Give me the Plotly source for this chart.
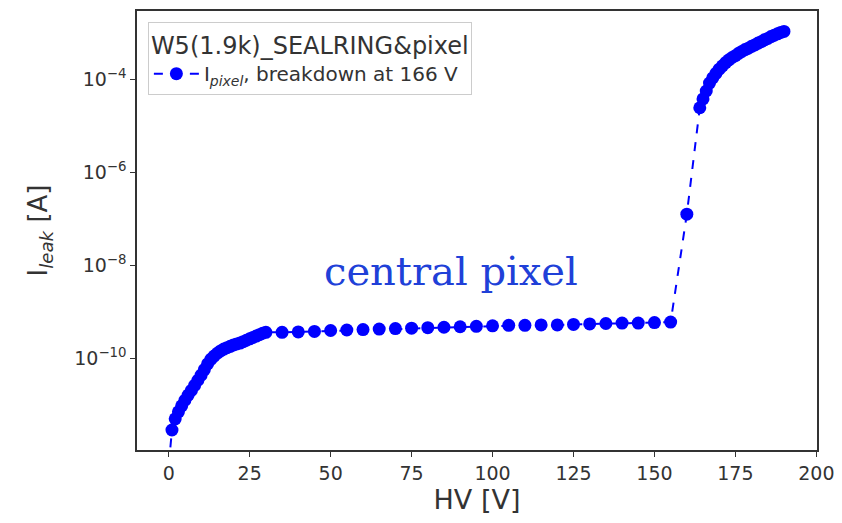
import plotly.graph_objects as go

# Data
hv_volts = [0, 1, 2, 3, 4, 5, 6, 7, 8, 9, 10, 11, 12, 13, 14, 15, 16, 17, 18, 19, 20,
            21, 22, 23, 24, 25, 26, 27, 28, 29, 30,
            35, 40, 45, 50, 55, 60, 65, 70, 75, 80, 85, 90, 95, 100, 105, 110, 115,
            120, 125, 130, 135, 140, 145, 150, 155,
            160,
            164, 165, 166, 167, 168, 169, 170, 171, 172, 173, 174, 175, 176, 177, 178,
            179, 180, 181, 182, 183, 184, 185, 186, 187, 188, 189, 190]
log10_ileak = [-12.3, -11.54, -11.30, -11.15, -11.02, -10.90, -10.79, -10.69, -10.58, -10.47, -10.36,
               -10.24, -10.12, -10.02, -9.95, -9.89, -9.84, -9.80, -9.77, -9.74, -9.71,
               -9.69, -9.67, -9.64, -9.61, -9.58, -9.55, -9.52, -9.49, -9.46, -9.44,
               -9.44, -9.43, -9.42, -9.40, -9.39, -9.38, -9.37, -9.36, -9.35, -9.34, -9.33,
               -9.32, -9.31, -9.30, -9.29, -9.29, -9.28, -9.28, -9.27, -9.26, -9.25, -9.24,
               -9.24, -9.23, -9.22,
               -6.90,
               -4.61, -4.42, -4.25, -4.08, -3.97, -3.87, -3.78, -3.71, -3.64, -3.58, -3.53,
               -3.49, -3.44, -3.40, -3.36, -3.33, -3.29, -3.26, -3.22, -3.19, -3.15, -3.12,
               -3.08, -3.05, -3.02, -2.99, -2.97]
ileak = [10 ** v for v in log10_ileak]

y_tick_vals = [1e-10, 1e-8, 1e-6, 1e-4]
y_tick_text = ["10<sup>−10</sup>", "10<sup>−8</sup>", "10<sup>−6</sup>", "10<sup>−4</sup>"]
x_tick_vals = [0, 25, 50, 75, 100, 125, 150, 175, 200]

series_name = "I<sub><i>pixel</i></sub>, breakdown at 166 V"
legend_title = "W5(1.9k)_SEALRING&pixel"

fig = go.Figure()
fig.add_trace(go.Scatter(
    x=hv_volts, y=ileak, mode="lines+markers", name=series_name,
    line=dict(color="#0000ff", width=2, dash="dash"),
    marker=dict(color="#0000ff", size=13, line=dict(width=0)),
    showlegend=True,
))

font_family = "DejaVu Sans, sans-serif"
text_color = "#333333"

fig.update_layout(
    width=834, height=515,
    margin=dict(l=129, r=25, t=1, b=73),
    paper_bgcolor="white", plot_bgcolor="white",
    font=dict(family=font_family, color=text_color, size=19),
    showlegend=True,
    legend=dict(
        title=dict(text=legend_title, font=dict(size=24, color=text_color)),
        x=0.016, y=0.975, xanchor="left", yanchor="top",
        bordercolor="#cccccc", borderwidth=1, bgcolor="rgba(255,255,255,0.9)",
        font=dict(size=20, color=text_color),
        itemwidth=45, tracegroupgap=4,
    ),
    xaxis=dict(
        range=[-9.8, 200.2], tickvals=x_tick_vals,
        showline=True, linecolor="#333333", linewidth=1.5, mirror=True,
        ticks="outside", ticklen=5, tickcolor="#333333",
        showgrid=False, zeroline=False,
        tickfont=dict(size=19, color=text_color),
        title=dict(text="HV [V]", font=dict(size=27, color=text_color), standoff=6),
    ),
    yaxis=dict(
        type="log", range=[-11.97, -2.53],
        tickvals=y_tick_vals, ticktext=y_tick_text,
        showline=True, linecolor="#333333", linewidth=1.5, mirror=True,
        ticks="outside", ticklen=5, tickcolor="#333333",
        showgrid=False, zeroline=False,
        tickfont=dict(size=19, color=text_color),
        title=dict(text="I<sub><i>leak</i></sub> [A]", font=dict(size=26, color=text_color), standoff=19),
    ),
    annotations=[dict(
        text="central pixel", x=0.462, y=0.408, xref="paper", yref="paper",
        xanchor="center", yanchor="middle", showarrow=False,
        font=dict(family="DejaVu Serif, serif", size=40, color="#2040d8"),
    )],
)

fig.write_html("out.html")
